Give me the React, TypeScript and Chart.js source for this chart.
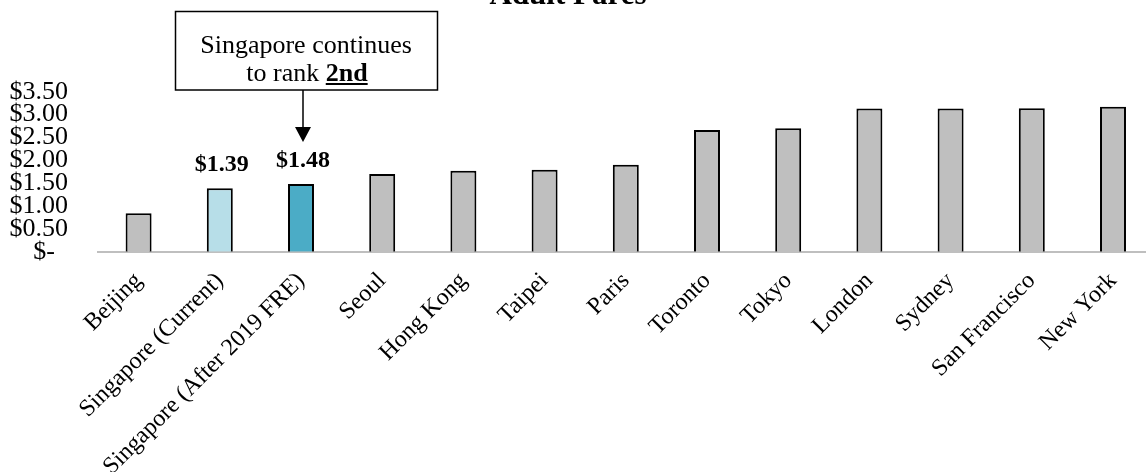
import React, { useEffect, useRef } from "react";
import { Chart, registerables } from "chart.js";

Chart.register(...registerables);

const categories = [
  "Beijing",
  "Singapore (Current)",
  "Singapore (After 2019 FRE)",
  "Seoul",
  "Hong Kong",
  "Taipei",
  "Paris",
  "Toronto",
  "Tokyo",
  "London",
  "Sydney",
  "San Francisco",
  "New York",
];

const fares = [0.84, 1.39, 1.48, 1.7, 1.77, 1.79, 1.9, 2.66, 2.7, 3.13, 3.13, 3.14, 3.17];

const titleText = "Adult Fares";
const calloutLine1 = "Singapore continues";
const calloutLine2a = "to rank ";
const calloutLine2b = "2nd";
const labelledIndices = [1, 2];
const calloutIndex = 2;
const currentIndex = 1;

const FONT = "'Liberation Serif', 'Times New Roman', serif";
const GREY = "#BFBFBF";
const LIGHT_BLUE = "#B7DEE8";
const TEAL = "#4BACC6";

const barColors = categories.map((_, i) =>
  i === currentIndex ? LIGHT_BLUE : i === calloutIndex ? TEAL : GREY
);

const overlay = {
  id: "overlay",
  afterDraw(chart: any) {
    const ctx = chart.ctx as CanvasRenderingContext2D;
    const xs = chart.scales.x;
    const ys = chart.scales.y;
    ctx.save();
    ctx.fillStyle = "#000";
    ctx.strokeStyle = "#000";

    // title (mostly cut off at the top)
    ctx.font = `bold 31px ${FONT}`;
    ctx.textAlign = "center";
    ctx.textBaseline = "alphabetic";
    ctx.fillText(titleText, 568, 4);

    // value labels
    ctx.font = `bold 24px ${FONT}`;
    for (const i of labelledIndices) {
      const px = xs.getPixelForValue(i);
      const py = ys.getPixelForValue(fares[i]);
      ctx.fillText(`$${fares[i].toFixed(2)}`, px + 2, py - 17);
    }

    // callout box
    const boxL = 175.5, boxR = 437.5, boxT = 11.5, boxB = 90;
    ctx.fillStyle = "#fff";
    ctx.fillRect(boxL, boxT, boxR - boxL, boxB - boxT);
    ctx.lineWidth = 1.5;
    ctx.strokeRect(boxL, boxT, boxR - boxL, boxB - boxT);
    ctx.fillStyle = "#000";
    ctx.font = `26px ${FONT}`;
    ctx.textAlign = "center";
    ctx.fillText(calloutLine1, 306, 53);
    const w1 = ctx.measureText(calloutLine2a).width;
    ctx.font = `bold 26px ${FONT}`;
    const w2 = ctx.measureText(calloutLine2b).width;
    const start = 307 - (w1 + w2) / 2;
    ctx.textAlign = "left";
    ctx.font = `26px ${FONT}`;
    ctx.fillText(calloutLine2a, start, 81);
    ctx.font = `bold 26px ${FONT}`;
    ctx.fillText(calloutLine2b, start + w1, 81);
    ctx.fillRect(start + w1, 83, w2, 2);

    // arrow
    const ax = xs.getPixelForValue(calloutIndex) + 2;
    const tip = ys.getPixelForValue(fares[calloutIndex]) - 42;
    ctx.beginPath();
    ctx.moveTo(ax, boxB);
    ctx.lineTo(ax, tip - 14);
    ctx.lineWidth = 1.5;
    ctx.stroke();
    ctx.beginPath();
    ctx.moveTo(ax - 8, tip - 15);
    ctx.lineTo(ax + 8, tip - 15);
    ctx.lineTo(ax, tip);
    ctx.closePath();
    ctx.fill();
    ctx.restore();
  },
};

export default function App() {
  const canvasRef = useRef<HTMLCanvasElement | null>(null);

  useEffect(() => {
    if (!canvasRef.current) return;
    const chart = new Chart(canvasRef.current, {
      type: "bar",
      data: {
        labels: categories,
        datasets: [
          {
            data: fares,
            backgroundColor: barColors,
            borderColor: "#000",
            borderWidth: 2,
            barPercentage: 0.4,
            categoryPercentage: 0.8,
          },
        ],
      },
      options: {
        responsive: false,
        animation: false,
        devicePixelRatio: 1,
        layout: { padding: { top: 91.7, right: 6.4, left: 0, bottom: 0 } },
        plugins: {
          legend: { display: false },
          title: { display: false },
          tooltip: { enabled: false },
        },
        scales: {
          x: {
            z: 1,
            grid: { display: false, drawTicks: false },
            border: { display: true, color: GREY, width: 2 },
            ticks: {
              autoSkip: false,
              minRotation: 45,
              maxRotation: 45,
              padding: 17,
              color: "#000",
              font: { family: FONT, size: 24, lineHeight: 1 },
            },
            afterFit: (s: any) => {
              s.height = 220.3;
            },
          },
          y: {
            min: 0,
            max: 3.5,
            grid: { display: false, drawTicks: false },
            border: { display: false },
            ticks: {
              stepSize: 0.5,
              autoSkip: false,
              padding: 30,
              color: "#000",
              font: { family: FONT, size: 26, lineHeight: 1 },
              callback: (v: any) => (Number(v) === 0 ? "$-  " : "$" + Number(v).toFixed(2)),
            },
            afterFit: (s: any) => {
              s.width = 98;
            },
          },
        },
      },
      plugins: [overlay],
    });
    return () => chart.destroy();
  }, []);

  return (
    <div
      style={{
        position: "absolute",
        left: 0,
        top: 0,
        width: 1146,
        height: 472,
        overflow: "hidden",
        background: "#fff",
      }}
    >
      <canvas
        ref={canvasRef}
        width={1160}
        height={472}
        style={{ display: "block", width: 1160, height: 472 }}
      />
    </div>
  );
}
